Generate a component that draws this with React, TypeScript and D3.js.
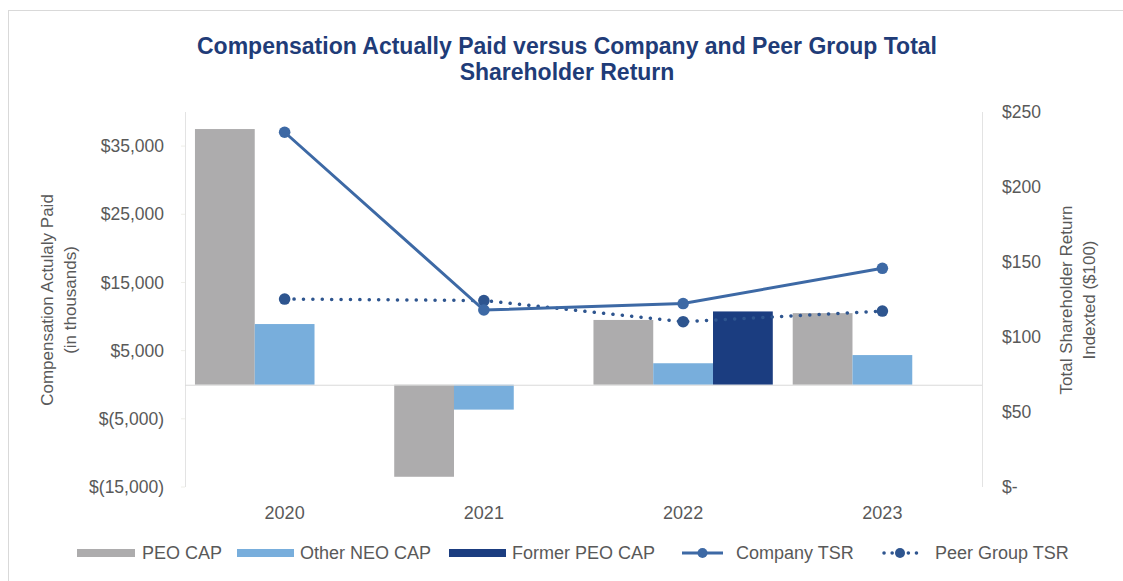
import React from "react";
import * as d3 from "d3";

const years = ["2020", "2021", "2022", "2023"];
const peoCap = [37500, -13500, 9500, 10500];
const otherNeoCap = [8900, -3650, 3150, 4350];
const formerPeoCap = [0, 0, 10750, 0];
const companyTsr = [236.5, 118, 122.3, 145.8];
const peerTsr = [125.3, 124.3, 110.2, 117.3];
const leftTicks = [-15000, -5000, 5000, 15000, 25000, 35000];
const rightTicks = [0, 50, 100, 150, 200, 250];

const W = 1123, H = 581;
const plotL = 185, plotR = 982, plotT = 112, plotB = 487;
const FONT = "'Liberation Sans', Arial, sans-serif";
const GRAY_TXT = "#595959";
const C_PEO = "#ADACAD", C_NEO = "#78AEDC", C_FORMER = "#1B3D80";
const C_COMP = "#3D69A5", C_PEER = "#2E558F";

const fmtLeft = (v: number) => v < 0 ? `$(${d3.format(",")(-v)})` : `$${d3.format(",")(v)}`;
const fmtRight = (v: number) => v === 0 ? "$-" : `$${v}`;

export default function App() {
  const x = d3.scaleBand<string>().domain(years).range([plotL, plotR]).paddingInner(0.1).paddingOuter(0.05);
  const yL = d3.scaleLinear().domain([-15000, 40000]).range([plotB, plotT]);
  const yR = d3.scaleLinear().domain([0, 250]).range([plotB, plotT]);
  const series = [
    { name: "PEO CAP", vals: peoCap, color: C_PEO },
    { name: "Other NEO CAP", vals: otherNeoCap, color: C_NEO },
    { name: "Former PEO CAP", vals: formerPeoCap, color: C_FORMER },
  ];
  const xs = d3.scaleBand<number>().domain([0, 1, 2]).range([0, x.bandwidth()]);
  const cx = (y: string) => (x(y) as number) + x.bandwidth() / 2;
  const line = d3.line<number>().x((_, i) => cx(years[i])).y((v) => yR(v));

  const legendY = 553;
  return (
    <svg width={W} height={H} style={{ position: "fixed", left: 0, top: 0, background: "#fff" }}>
      <rect x={0} y={0} width={W} height={H} fill="#fff" />
      <line x1={8.5} y1={10} x2={8.5} y2={H} stroke="#D9D9D9" />
      <line x1={8} y1={10.5} x2={W} y2={10.5} stroke="#D9D9D9" />
      <text x={567} y={54} textAnchor="middle" fontFamily={FONT} fontWeight="bold" fontSize={23} fill="#1F3C78">
        Compensation Actually Paid versus Company and Peer Group Total
      </text>
      <text x={567} y={80} textAnchor="middle" fontFamily={FONT} fontWeight="bold" fontSize={23} fill="#1F3C78">
        Shareholder Return
      </text>

      {/* axes lines */}
      <line x1={plotL + 0.5} y1={plotT} x2={plotL + 0.5} y2={plotB} stroke="#E3E3E3" />
      <line x1={plotR + 0.5} y1={plotT} x2={plotR + 0.5} y2={plotB} stroke="#E3E3E3" />
      {leftTicks.map((t) => (
        <g key={t}>
          <line x1={plotL - 4} x2={plotL} y1={yL(t)} y2={yL(t)} stroke="#EEEEE8" />
          <text x={plotL - 21} y={yL(t)} dy="0.35em" textAnchor="end" fontFamily={FONT} fontSize={17.5} fill={GRAY_TXT}>
            {fmtLeft(t)}
          </text>
        </g>
      ))}
      {rightTicks.map((t) => (
        <text key={t} x={1002} y={yR(t)} dy="0.35em" textAnchor="start" fontFamily={FONT} fontSize={17.5} fill={GRAY_TXT}>
          {fmtRight(t)}
        </text>
      ))}

      {/* bars */}
      {series.map((s, si) =>
        s.vals.map((v, i) =>
          v === 0 ? null : (
            <rect
              key={s.name + i}
              x={(x(years[i]) as number) + (xs(si) as number)}
              width={xs.bandwidth()}
              y={Math.min(yL(v), yL(0))}
              height={Math.abs(yL(v) - yL(0))}
              fill={s.color}
            />
          )
        )
      )}
      <line x1={plotL} x2={plotR} y1={yL(0) + 0.5} y2={yL(0) + 0.5} stroke="#D9D9D9" />

      {/* lines */}
      <path d={line(peerTsr) as string} fill="none" stroke={C_PEER} strokeWidth={3.5} strokeDasharray="0.1 9.3" strokeLinecap="round" />
      <path d={line(companyTsr) as string} fill="none" stroke={C_COMP} strokeWidth={3} />
      {peerTsr.map((v, i) => <circle key={"p" + i} cx={cx(years[i])} cy={yR(v)} r={5.8} fill={C_PEER} />)}
      {companyTsr.map((v, i) => <circle key={"c" + i} cx={cx(years[i])} cy={yR(v)} r={5.8} fill={C_COMP} />)}

      {/* x labels */}
      {years.map((y) => (
        <text key={y} x={cx(y)} y={519} textAnchor="middle" fontFamily={FONT} fontSize={18} fill={GRAY_TXT}>{y}</text>
      ))}

      {/* axis titles */}
      <g transform="translate(47,300) rotate(-90)">
        <text x={0} y={0} dy="0.35em" textAnchor="middle" fontFamily={FONT} fontSize={17} fill={GRAY_TXT}>Compensation Actulaly Paid</text>
        <text x={0} y={23} dy="0.35em" textAnchor="middle" fontFamily={FONT} fontSize={17} fill={GRAY_TXT}>(in thousands)</text>
      </g>
      <g transform="translate(1066,300) rotate(-90)">
        <text x={0} y={0} dy="0.35em" textAnchor="middle" fontFamily={FONT} fontSize={17} fill={GRAY_TXT}>Total Shareholder Return</text>
        <text x={0} y={23} dy="0.35em" textAnchor="middle" fontFamily={FONT} fontSize={17} fill={GRAY_TXT}>Indexted ($100)</text>
      </g>

      {/* legend */}
      <rect x={77} y={legendY - 4} width={58} height={8} fill={C_PEO} />
      <text x={142} y={legendY} dy="0.35em" fontFamily={FONT} fontSize={18} fill={GRAY_TXT}>PEO CAP</text>
      <rect x={237} y={legendY - 4} width={57} height={8} fill={C_NEO} />
      <text x={300} y={legendY} dy="0.35em" fontFamily={FONT} fontSize={18} fill={GRAY_TXT}>Other NEO CAP</text>
      <rect x={449} y={legendY - 4} width={57} height={8} fill={C_FORMER} />
      <text x={512} y={legendY} dy="0.35em" fontFamily={FONT} fontSize={18} fill={GRAY_TXT}>Former PEO CAP</text>
      <line x1={682} x2={723} y1={legendY} y2={legendY} stroke={C_COMP} strokeWidth={3} />
      <circle cx={702.5} cy={legendY} r={5} fill={C_COMP} />
      <text x={736} y={legendY} dy="0.35em" fontFamily={FONT} fontSize={18} fill={GRAY_TXT}>Company TSR</text>
      <line x1={884} x2={918} y1={legendY} y2={legendY} stroke={C_PEER} strokeWidth={3.5} strokeDasharray="0.1 8" strokeLinecap="round" />
      <circle cx={900} cy={legendY} r={5} fill={C_PEER} />
      <text x={935} y={legendY} dy="0.35em" fontFamily={FONT} fontSize={18} fill={GRAY_TXT}>Peer Group TSR</text>
    </svg>
  );
}
